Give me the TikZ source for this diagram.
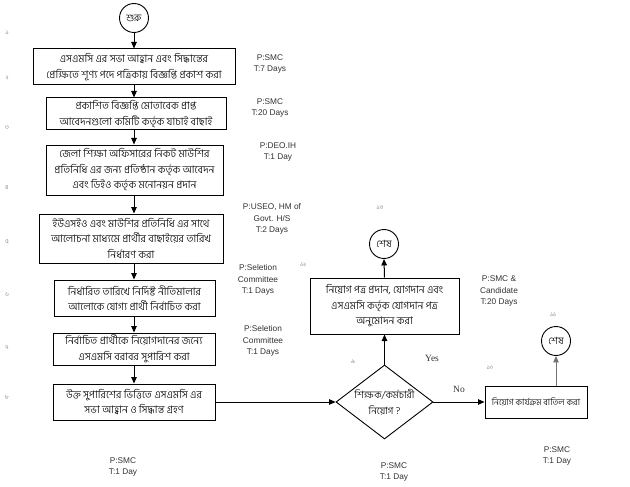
\documentclass[tikz,border=0pt]{standalone}
\usepackage{fontspec}
\setmainfont{Liberation Sans}
\newfontfamily\bn[Script=Bengali, UprightFont=* Light]{Hind Siliguri}
\newfontfamily\serifen{Liberation Serif}
\usetikzlibrary{arrows.meta,shapes.geometric}
\begin{document}
\begin{tikzpicture}[x=1pt,y=-1pt,
 box/.style={draw, line width=1pt, align=center, font=\bn\fontsize{10.5}{15.5}\selectfont, inner sep=0pt},
 term/.style={draw, circle, line width=0.9pt, minimum size=29pt, inner sep=0pt, font=\bn\fontsize{10}{11}\selectfont},
 dec/.style={draw, diamond, line width=0.9pt, align=center, inner sep=0pt, minimum width=97pt, minimum height=74pt, aspect=1.3, font=\bn\fontsize{10}{15.5}\selectfont},
 lbl/.style={align=center, font=\fontsize{8.3}{11.5}\selectfont, text=black!80, inner sep=0pt},
 yn/.style={font=\serifen\fontsize{9.5}{10}\selectfont, text=black!80, inner sep=0pt},
 num/.style={font=\bn\fontsize{6}{7}\selectfont, text=black!55, inner sep=0pt},
 flow/.style={-{Triangle[length=6.5pt,width=5.5pt]}, line width=1pt},
]
\useasboundingbox (0,0) rectangle (630,487);
\fill[white] (0,0) rectangle (630,487);

% terminals
\node[term] (start) at (134,18) {শুরু};
\node[term] (end1) at (384,244) {শেষ};
\node[term] (end2) at (556,341) {শেষ};

% process boxes
\node[box, minimum width=202pt, minimum height=36pt] (b1) at (134,67)
  {এসএমসি এর সভা আহ্বান এবং সিদ্ধান্তের\\প্রেক্ষিতে শূণ্য পদে পত্রিকায় বিজ্ঞপ্তি প্রকাশ করা};
\node[box, minimum width=180pt, minimum height=32pt] (b2) at (136,114)
  {প্রকাশিত বিজ্ঞপ্তি মোতাবেক প্রাপ্ত\\আবেদনগুলো কমিটি কর্তৃক যাচাই বাছাই};
\node[box, minimum width=177pt, minimum height=50pt] (b3) at (134.5,170)
  {জেলা শিক্ষা অফিসারের নিকট মাউশির\\প্রতিনিধি এর জন্য প্রতিষ্ঠান কর্তৃক আবেদন\\এবং ডিইও কর্তৃক মনোনয়ন প্রদান};
\node[box, minimum width=184pt, minimum height=49pt] (b4) at (131,238.5)
  {ইউএসইও এবং মাউশির প্রতিনিধি এর সাথে\\আলোচনা মাধ্যমে প্রার্থীর বাছাইয়ের তারিখ\\নির্ধারণ করা};
\node[box, minimum width=161pt, minimum height=36pt] (b5) at (134.5,298)
  {নির্ধারিত তারিখে নির্দিষ্ট নীতিমালার\\আলোকে যোগ্য প্রার্থী নির্বাচিত করা};
\node[box, minimum width=162pt, minimum height=32pt] (b6) at (134,349)
  {নির্বাচিত প্রার্থীকে নিয়োগদানের জন্যে\\এসএমসি বরাবর সুপারিশ করা};
\node[box, minimum width=162pt, minimum height=36pt] (b7) at (134,402)
  {উক্ত সুপারিশের ভিত্তিতে এসএমসি এর\\সভা আহ্বান ও সিদ্ধান্ত গ্রহণ};

\node[dec] (d) at (384.5,402) {শিক্ষক/কর্মচারী\\নিয়োগ ?};
\node[box, minimum width=149pt, minimum height=56pt] (app) at (384.5,306)
  {নিয়োগ পত্র প্রদান, যোগদান এবং\\এসএমসি কর্তৃক যোগদান পত্র\\অনুমোদন করা};
\node[box, minimum width=102pt, minimum height=32pt, font=\bn\fontsize{8.8}{12}\selectfont] (can) at (536,402)
  {নিয়োগ কার্যক্রম বাতিল করা};

% connectors
\draw[flow] (start) -- (b1.north -| start);
\draw[flow] (b1.south -| start) -- (b2.north -| start);
\draw[flow] (b2.south -| start) -- (b3.north -| start);
\draw[flow] (b3.south -| start) -- (b4.north -| start);
\draw[flow] (b4.south -| start) -- (b5.north -| start);
\draw[flow] (b5.south -| start) -- (b6.north -| start);
\draw[flow] (b6.south -| start) -- (b7.north -| start);
\draw[flow, line width=0.8pt] (b7.east |- d) -- (d.west);
\draw[flow] (d.north) -- (app.south);
\draw[flow] (app.north) -- (end1.south);
\draw[flow] (d.east) -- (can.west);
\draw[flow, draw=black!55, fill=black!80] (can.north -| end2) -- (end2.south);

% yes / no
\node[yn] (yes) at (432,358) {Yes};
\node[yn] (no) at (459,389) {No};

% responsibility labels
\node[lbl] (l1) at (270,64) {P:SMC\\T:7 Days};
\node[lbl] (l2) at (270,108) {P:SMC\\T:20 Days};
\node[lbl] (l3) at (278,152) {P:DEO.IH\\T:1 Day};
\node[lbl] (l4) at (272,219) {P:USEO, HM of\\Govt. H/S\\T:2 Days};
\node[lbl] (l5) at (258,280) {P:Seletion\\Committee\\T:1 Days};
\node[lbl] (l6) at (263,341) {P:Seletion\\Committee\\T:1 Days};
\node[lbl] (l7) at (123,467) {P:SMC\\T:1 Day};
\node[lbl] (l8) at (499,291) {P:SMC \&\\Candidate\\T:20 Days};
\node[lbl] (l9) at (394,472) {P:SMC\\T:1 Day};
\node[lbl] (l10) at (557,456) {P:SMC\\T:1 Day};

% step numbers
\node[num] (n1) at (7,33) {১};
\node[num] (n2) at (7,78) {২};
\node[num] (n3) at (7,128) {৩};
\node[num] (n4) at (7,188) {৪};
\node[num] (n5) at (7,242) {৫};
\node[num] (n6) at (7,295) {৬};
\node[num] (n7) at (7,348) {৭};
\node[num] (n8) at (7,398) {৮};
\node[num] (n9) at (353,362) {৯};
\node[num] (n10) at (490,368) {১০};
\node[num] (n11) at (553,315) {১১};
\node[num] (n12) at (303,265) {১২};
\node[num] (n13) at (380,208) {১৩};
\end{tikzpicture}
\end{document}
